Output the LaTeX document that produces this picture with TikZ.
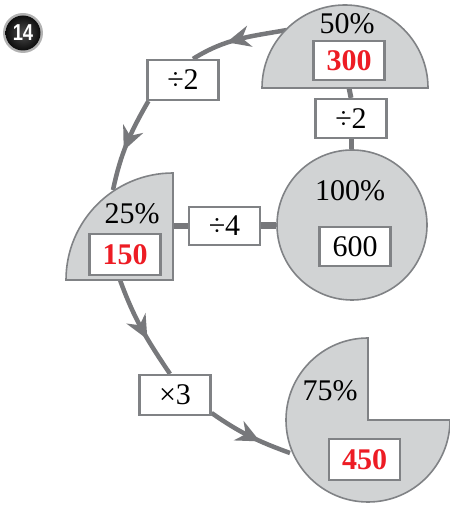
\documentclass[tikz,border=0pt]{standalone}
\usepackage{fontspec}
\setmainfont{Liberation Serif}
\newfontfamily\badgefont{Liberation Sans}
\usetikzlibrary{arrows.meta,decorations.markings,calc,backgrounds}
\definecolor{shapefill}{HTML}{D1D3D4}
\definecolor{shapeline}{HTML}{808285}
\definecolor{flowgray}{HTML}{77787B}
\definecolor{ansred}{HTML}{ED1C24}
\tikzset{
  region/.style={fill=shapefill, draw=shapeline, line width=1.6pt},
  valbox/.style={draw=shapeline, fill=white, line width=2.2pt, minimum width=71pt,
    minimum height=39pt, inner sep=0pt, font=\fontsize{30}{32}\selectfont},
  lbl/.style={inner sep=0pt, font=\fontsize{30}{32}\selectfont},
  ans/.style={text=ansred, font=\fontsize{30}{32}\selectfont\bfseries},
  flow/.style={draw=flowgray, line width=4.5pt, postaction={decorate},
    decoration={markings, mark=at position #1 with
      {\fill[flowgray] (12pt,0pt) -- (-12pt,11pt) -- (-4pt,0pt) -- (-12pt,-11pt) -- cycle;}}},
  flow/.default=0.5,
  link/.style={draw=flowgray, line width=#1},
}
\begin{document}
\begin{tikzpicture}[x=1pt,y=1pt]
\useasboundingbox (0,0) rectangle (449,505);
% badge
\fill[black!30] (23,472) circle (20);
\shade[inner color=black!70, outer color=black!95] (23,472) circle (17.5);
\node[text=white, inner sep=0pt, font=\badgefont\bfseries\fontsize{23}{23}\selectfont] (badge) at (23,472) {\scalebox{0.8}[1]{14}};

% shapes
\path[region] (262,417) arc[start angle=180,end angle=0,radius=83] -- cycle;
\node[region, circle, minimum size=150pt, inner sep=0pt] (c100) at (352,280) {};
\path[region] (173,225) -- (173,332) arc[start angle=90,end angle=180,radius=107] -- cycle;
\path[region] (368,85) -- (368,167) arc[start angle=90,end angle=360,radius=82] -- cycle;

% anchor points on the shapes
\coordinate (h50w) at (287,475);
\coordinate (h50s) at (349,417);
\coordinate (q25in) at (113,315);
\coordinate (q25out) at (120,225);
\coordinate (q25e) at (173,279);
\coordinate (p75w) at (290,52);

% labels
\node[lbl] (p50) at (347,481) {50\%};
\node[lbl] (p100) at (350,314) {100\%};
\node[lbl] (p25) at (132,291) {25\%};
\node[lbl] (p75) at (330,114) {75\%};

% boxes
\node[valbox, ans] (b300) at (349,444.5) {300};
\node[valbox] (d2v) at (351,386.5) {÷2};
\node[valbox, minimum height=40pt] (d2b) at (183,425) {÷2};
\node[valbox, ans, minimum height=41pt] (b150) at (125,250.5) {150};
\node[valbox, minimum height=38pt] (d4) at (224.5,279) {÷4};
\node[valbox] (b600) at (355,258.5) {600};
\node[valbox, minimum height=40pt] (x3) at (175,110) {×3};
\node[valbox, ans, minimum height=41pt] (b450) at (364.5,45.5) {450};

\begin{pgfonlayer}{background}
  \draw[link=5pt] (h50s) -- (d2v.north);
  \draw[link=5pt] (d2v.south) -- (d2v.south |- c100.north);
  \draw[link=5.5pt] (q25e) -- (d4.west);
  \draw[link=7pt] (d4.east) -- (d4.east -| c100.west);
  \draw[flow] (h50w) to[out=190,in=32] ($(d2b.north)+(10,0)$);
  \draw[flow=0.45] ($(d2b.south west)+(2,0)$) to[out=240,in=78] (q25in);
  \draw[flow] (q25out) to[out=290,in=124] ($(x3.north)+(-5,0)$);
  \draw[flow] ($(x3.east)+(0,-18)$) to[out=-35,in=160] (p75w);
\end{pgfonlayer}
\end{tikzpicture}
\end{document}
